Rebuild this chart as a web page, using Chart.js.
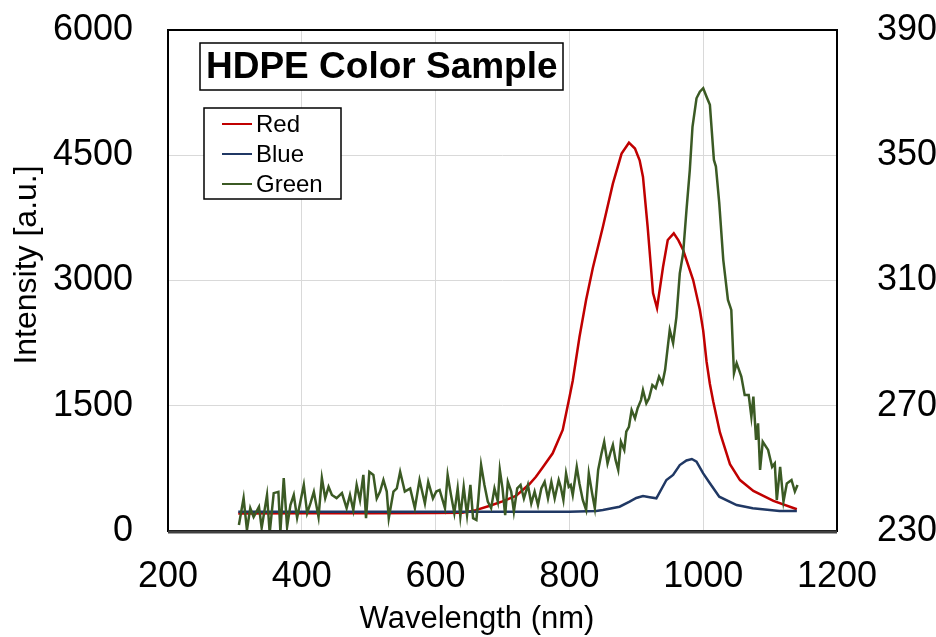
<!DOCTYPE html>
<html>
<head>
<meta charset="utf-8">
<script src="https://cdn.jsdelivr.net/npm/chart.js@4.4.0/dist/chart.umd.min.js"></script>
<style>
  body { margin: 0; background: #fff; }
  #wrap { width: 936px; height: 637px; }
</style>
</head>
<body>
<div id="wrap"><canvas id="spectrum" width="936" height="637"></canvas></div>
<script>
/* globals Chart:false */

// Red channel (left axis, counts)
const redWl = [305, 400, 500, 600, 640, 660, 680, 700, 720, 740, 750, 760, 775, 790, 800, 805, 815, 825, 835, 850, 865, 878, 889, 898, 905, 910, 917, 925, 931, 940, 947, 956, 963, 970, 985, 995, 1000, 1005, 1010, 1015, 1025, 1040, 1055, 1075, 1105, 1140];
const redVal = [210, 212, 212, 215, 220, 250, 300, 355, 420, 560, 650, 760, 930, 1210, 1600, 1800, 2320, 2770, 3150, 3640, 4160, 4520, 4650, 4580, 4440, 4240, 3640, 2850, 2670, 3165, 3485, 3565, 3480, 3365, 3006, 2650, 2400, 2030, 1760, 1550, 1180, 800, 610, 480, 360, 260];

// Blue channel (left axis, counts)
const blueWl = [305, 500, 700, 800, 840, 850, 875, 890, 900, 910, 920, 930, 945, 955, 965, 975, 983, 990, 1000, 1010, 1024, 1050, 1074, 1114, 1140];
const blueVal = [230, 230, 230, 232, 240, 251, 291, 351, 395, 419, 405, 392, 611, 671, 790, 845, 862, 830, 690, 571, 411, 311, 272, 240, 240];

// Green channel (right axis)
const greenWl = [306, 313, 318, 323, 328, 336, 340, 348, 352, 358, 365, 368, 373, 378, 383, 388, 393, 403, 408, 413,
  418, 425, 430, 435, 440, 445, 452, 460, 467, 472, 477, 482, 487, 492, 496, 501, 507, 512, 517, 522,
  527, 530, 537, 542, 547, 554, 562, 569, 576, 584, 589, 596, 601, 606, 614, 618, 623, 628, 633, 637,
  642, 647, 652, 656, 661, 664, 668, 673, 678, 683, 688, 693, 696, 700, 704, 708, 713, 717, 722, 727,
  732, 738, 743, 748, 753, 758, 763, 768, 773, 778, 784, 787, 791, 795, 799, 802, 805, 811, 815, 820,
  825, 829, 834, 838, 843, 848, 852, 857, 861, 865, 869, 873, 877, 882, 885, 889, 893, 898, 902, 907,
  910, 915, 919, 924, 929, 934, 939, 943, 950, 955, 960, 965, 970, 975, 980, 984, 990, 995, 1000, 1005,
  1010, 1016, 1019, 1024, 1030, 1037, 1042, 1046, 1050, 1057, 1062, 1068, 1072, 1075, 1079, 1082, 1085, 1089, 1097, 1103,
  1107, 1110, 1115, 1120, 1125, 1132, 1137, 1141];
const greenVal = [231.9, 240.5, 230.3, 237.3, 234.5, 237.7, 231.0, 241.5, 229.4, 242.1, 242.5, 229.7, 246.9, 231.3, 238.3, 241.5, 234.2, 244.7, 235.7, 238.9,
  242.5, 234.5, 246.9, 240.5, 244.1, 241.5, 240.5, 242.1, 237.3, 241.5, 236.7, 244.7, 239.9, 247.9, 234.1, 248.9, 247.9, 240.4, 242.6, 246.3,
  242.6, 234.1, 242.6, 243.6, 248.9, 242.6, 243.6, 237.3, 246.3, 238.8, 245.7, 240.4, 242.6, 243.1, 237.3, 247.9, 241.5, 235.7, 243.6, 234.6,
  244.1, 235.1, 244.7, 234.1, 233.5, 240.4, 251.1, 244.7, 239.4, 237.3, 243.6, 239.4, 249.5, 243.6, 235.1, 245.7, 242.6, 236.2, 243.6, 244.7,
  240.4, 244.7, 238.8, 242.6, 238.3, 243.6, 245.7, 240.4, 245.7, 240.4, 246.3, 244.1, 239.9, 248.4, 244.1, 244.7, 241.5, 250.5, 245.2, 239.9,
  236.7, 248.4, 242.0, 237.3, 249.5, 254.8, 258.5, 251.6, 254.8, 257.5, 252.7, 249.5, 258.5, 255.9, 261.7, 263.3, 268.6, 266.0, 269.2, 271.8,
  275.0, 270.8, 272.4, 276.6, 275.6, 279.3, 277.2, 281.4, 294.2, 290.0, 298.4, 312.3, 318.7, 332.5, 345.3, 359.1, 368.2, 370.3, 371.4, 368.7,
  366.1, 348.5, 346.4, 334.7, 316.6, 303.8, 300.6, 280.4, 283.6, 279.3, 273.4, 273.4, 266.5, 272.9, 259.1, 264.4, 249.5, 258.5, 255.9, 250.5,
  251.6, 239.9, 250.5, 239.4, 245.2, 246.3, 242.6, 244.7];

const toPoints = (xs, ys) => xs.map((x, i) => ({ x: x, y: ys[i] }));

const FONT = '"Liberation Sans", Arial, sans-serif';

// frame, title box, legend box and axis captions
const framePlugin = {
  id: 'frame',
  afterDraw(chart) {
    const { ctx, chartArea: a } = chart;
    ctx.save();
    ctx.strokeStyle = '#000';
    ctx.lineWidth = 2;
    ctx.strokeRect(a.left, a.top, a.right - a.left, a.bottom - a.top);
    ctx.strokeStyle = '#404040';
    ctx.lineWidth = 3;
    ctx.beginPath();
    ctx.moveTo(a.left, a.bottom + 1);
    ctx.lineTo(a.right, a.bottom + 1);
    ctx.stroke();

    // title box
    ctx.fillStyle = '#fff';
    ctx.fillRect(200, 43, 363, 47);
    ctx.strokeStyle = '#000';
    ctx.lineWidth = 1.5;
    ctx.strokeRect(200, 43, 363, 47);
    ctx.fillStyle = '#000';
    ctx.font = 'bold 37px ' + FONT;
    ctx.textBaseline = 'middle';
    ctx.textAlign = 'left';
    ctx.fillText('HDPE Color Sample', 206, 68);

    // legend box
    ctx.fillStyle = '#fff';
    ctx.fillRect(204, 108, 137, 91);
    ctx.strokeRect(204, 108, 137, 91);
    ctx.font = '24px ' + FONT;
    chart.data.datasets.forEach((ds, i) => {
      const y = 124 + i * 30;
      ctx.strokeStyle = ds.borderColor;
      ctx.lineWidth = 2;
      ctx.beginPath();
      ctx.moveTo(222, y);
      ctx.lineTo(252, y);
      ctx.stroke();
      ctx.fillStyle = '#000';
      ctx.fillText(ds.label, 256, y + 1);
    });

    // axis captions (both sit a little off centre in the original)
    ctx.font = '31px ' + FONT;
    ctx.textAlign = 'center';
    ctx.fillText('Wavelength (nm)', 477, 619);
    ctx.translate(27, 265);
    ctx.rotate(-Math.PI / 2);
    ctx.font = '32px ' + FONT;
    ctx.fillText('Intensity [a.u.]', 0, 0);
    ctx.restore();
  }
};

const tickFont = { family: FONT, size: 36 };
const plain = v => String(v);

new Chart(document.getElementById('spectrum').getContext('2d'), {
  type: 'line',
  data: {
    datasets: [
      { label: 'Red', data: toPoints(redWl, redVal), borderColor: '#c00000', yAxisID: 'y', order: 3 },
      { label: 'Blue', data: toPoints(blueWl, blueVal), borderColor: '#203864', yAxisID: 'y', order: 2 },
      { label: 'Green', data: toPoints(greenWl, greenVal), borderColor: '#3b5a24', yAxisID: 'y1', order: 1 }
    ]
  },
  options: {
    responsive: false,
    animation: false,
    elements: {
      point: { radius: 0 },
      line: { borderWidth: 2.5, tension: 0, fill: false }
    },
    layout: { padding: { top: 30, left: 0, right: 0, bottom: 0 } },
    plugins: { legend: { display: false }, tooltip: { enabled: false } },
    scales: {
      x: {
        type: 'linear', min: 200, max: 1200,
        ticks: { stepSize: 200, font: tickFont, color: '#000', padding: 24, callback: plain },
        grid: { color: '#d9d9d9', drawTicks: false },
        border: { display: false },
        afterFit: s => { s.height = 106; s.paddingLeft = 0; s.paddingRight = 0; }
      },
      y: {
        position: 'left', min: 0, max: 6000,
        ticks: { stepSize: 1500, font: tickFont, color: '#000', padding: 35, callback: plain },
        grid: { color: '#d9d9d9', drawTicks: false },
        border: { display: false },
        afterFit: s => { s.width = 168; s.paddingTop = 0; s.paddingBottom = 0; }
      },
      y1: {
        position: 'right', min: 230, max: 390,
        ticks: { stepSize: 40, font: tickFont, color: '#000', padding: 40, callback: plain },
        grid: { display: false, drawTicks: false },
        border: { display: false },
        afterFit: s => { s.width = 99; s.paddingTop = 0; s.paddingBottom = 0; }
      }
    }
  },
  plugins: [framePlugin]
});
</script>
</body>
</html>
